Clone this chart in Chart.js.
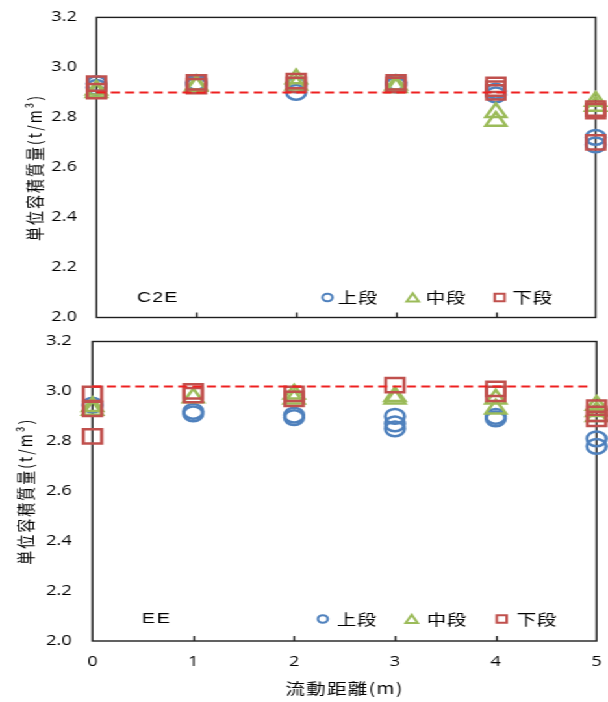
<!DOCTYPE html>
<html>
<head>
<meta charset="utf-8">
<script src="https://cdn.jsdelivr.net/npm/chart.js@4/dist/chart.umd.min.js"></script>
<style>
  html, body { margin: 0; padding: 0; background: #fff; overflow: hidden; }
  /* charts are laid out on a 468px-wide board and widened to 608px */
  #board { position: absolute; left: 0; top: 0; width: 468px; height: 702px;
           transform: scale(1.2991, 1); transform-origin: 0 0; }
  canvas { display: block; }
</style>
</head>
<body>
<div id="board">
  <canvas id="c2e" width="468" height="330" style="width:468px;height:330px"></canvas>
  <canvas id="ee" width="468" height="372" style="width:468px;height:372px"></canvas>
</div>
<script>
// ---- data ----
const distances = [0, 1, 2, 3, 4, 5];          // 流動距離 (m)
const yTicks = [2.0, 2.2, 2.4, 2.6, 2.8, 3.0, 3.2];
const seriesNames = ['上段', '中段', '下段'];

// C2E: 単位容積質量 per distance (several samples each)
const c2eUpper  = [[2.935, 2.92], [2.94, 2.93], [2.93, 2.90], [2.94, 2.93], [2.905, 2.89], [2.72, 2.69]];
const c2eMiddle = [[2.91, 2.90], [2.93, 2.925], [2.955, 2.93], [2.93, 2.92], [2.82, 2.785], [2.865, 2.845]];
const c2eLower  = [[2.935, 2.905], [2.94, 2.925], [2.945, 2.93], [2.94, 2.93], [2.93, 2.915, 2.90], [2.835, 2.825, 2.70]];
const c2eTarget = 2.90;

// EE
const eeUpper  = [[2.945], [2.92, 2.91], [2.905, 2.895], [2.90, 2.87, 2.85], [2.90, 2.89], [2.81, 2.78]];
const eeMiddle = [[2.94, 2.925], [2.975], [2.99, 2.97], [2.98, 2.97], [2.97, 2.93], [2.945, 2.92, 2.90]];
const eeLower  = [[2.99, 2.93, 2.82], [3.00, 2.985], [2.99, 2.97], [3.025], [3.01, 2.99], [2.935, 2.91, 2.89]];
const eeTarget = 3.02;

const targetSpan = [0, 4.94];

// ---- styles ----
const COLORS = ['#4F81BD', '#9BBB59', '#C0504D'];
const STYLES = ['circle', 'triangle', 'rect'];
const RADII  = [7.4, 9, 10];
const TICK_FONT = { family: '"Open Sans", sans-serif', size: 14 };
const CJK = '"Noto Sans CJK JP", sans-serif';

function toPoints(values) {
  const pts = [];
  values.forEach((list, i) => list.forEach(v => pts.push({ x: distances[i], y: v })));
  return pts;
}

function drawLegendMarker(ctx, style, x, y, color) {
  ctx.save();
  ctx.strokeStyle = color;
  ctx.lineWidth = 2;
  ctx.beginPath();
  if (style === 'circle') {
    ctx.arc(x, y, 3.8, 0, Math.PI * 2);
  } else if (style === 'triangle') {
    ctx.moveTo(x, y - 4.2); ctx.lineTo(x + 4.6, y + 4); ctx.lineTo(x - 4.6, y + 4); ctx.closePath();
  } else {
    ctx.rect(x - 3.8, y - 3.8, 7.6, 7.6);
  }
  ctx.stroke();
  ctx.restore();
}

// frame and inward tick marks, under the markers
const framePlugin = {
  id: 'frame',
  beforeDatasetsDraw(chart) {
    const { ctx, chartArea: a, scales: { x } } = chart;
    ctx.save();
    ctx.strokeStyle = '#1e1e1e';
    ctx.lineWidth = 1.4;
    ctx.strokeRect(a.left, a.top, a.right - a.left, a.bottom - a.top);
    ctx.beginPath();
    distances.slice(1, -1).forEach(d => {
      const px = Math.round(x.getPixelForValue(d)) + 0.5;
      ctx.moveTo(px, a.bottom);
      ctx.lineTo(px, a.bottom - 5);
    });
    ctx.stroke();
    ctx.restore();
  }
};

// panel label, in-plot legend and axis titles
const textPlugin = {
  id: 'panelText',
  afterDraw(chart, args, o) {
    const { ctx, chartArea: a } = chart;
    ctx.save();
    ctx.fillStyle = '#000';
    ctx.textBaseline = 'middle';

    // panel name
    ctx.font = '15px "Liberation Sans", Arial, sans-serif';
    ctx.letterSpacing = o.nameSpacing + 'px';
    ctx.textAlign = 'left';
    ctx.fillText(o.name, o.nameX, o.legendY);

    // legend
    ctx.font = '15px ' + CJK;
    ctx.letterSpacing = '0.5px';
    seriesNames.forEach((n, i) => {
      drawLegendMarker(ctx, STYLES[i], o.markerX[i], o.legendY, COLORS[i]);
      ctx.fillText(n, o.textX[i], o.legendY);
    });

    // y title
    ctx.save();
    ctx.font = '14px ' + CJK;
    ctx.letterSpacing = '2px';
    ctx.textAlign = 'center';
    ctx.translate(o.yTitleX, (a.top + a.bottom) / 2);
    ctx.rotate(-Math.PI / 2);
    ctx.fillText('単位容積質量(t/m³)', 0, 0);
    ctx.restore();

    // x title
    if (o.xTitle) {
      ctx.font = '15px ' + CJK;
      ctx.letterSpacing = '1px';
      ctx.textAlign = 'center';
      ctx.fillText(o.xTitle, (a.left + a.right) / 2, o.xTitleY);
    }
    ctx.restore();
  }
};

// fixed axis boxes; the tick labels must not push the plot area inward
function clearPadding(s) {
  s.paddingTop = 0; s.paddingBottom = 0; s.paddingLeft = 0; s.paddingRight = 0;
}

function makePanel(canvasId, upper, middle, lower, target, cfg) {
  const seriesData = [upper, middle, lower];
  const datasets = [{
    type: 'line',
    data: targetSpan.map(x => ({ x, y: target })),
    borderColor: '#EE2020',
    borderWidth: 2,
    borderDash: [7, 4],
    pointRadius: 0,
    showLine: true,
    fill: false,
    order: 0,
    clip: false
  }];
  seriesData.forEach((vals, i) => {
    datasets.push({
      label: seriesNames[i],
      data: toPoints(vals),
      pointStyle: STYLES[i],
      pointRadius: RADII[i],
      pointBorderWidth: 2.5,
      pointBorderColor: COLORS[i],
      pointBackgroundColor: 'rgba(0,0,0,0)',
      showLine: false,
      order: 3 - i,
      clip: false
    });
  });

  return new Chart(document.getElementById(canvasId), {
    type: 'scatter',
    data: { datasets },
    options: {
      responsive: false,
      animation: false,
      events: [],
      layout: { autoPadding: false, padding: { top: cfg.padTop, right: cfg.padRight, left: 0, bottom: 0 } },
      plugins: {
        legend: { display: false },
        tooltip: { enabled: false },
        panelText: cfg.text
      },
      scales: {
        x: {
          type: 'linear', min: 0, max: 5,
          afterBuildTicks: s => { s.ticks = distances.map(v => ({ value: v })); },
          afterFit: s => { s.height = cfg.xHeight; clearPadding(s); },
          grid: { display: false, drawTicks: false },
          border: { display: false },
          ticks: { display: cfg.showXLabels, font: TICK_FONT, color: '#000', padding: 13, maxRotation: 0 }
        },
        y: {
          type: 'linear', min: 2.0, max: 3.2,
          afterBuildTicks: s => { s.ticks = yTicks.map(v => ({ value: v })); },
          afterFit: s => { s.width = cfg.yWidth; clearPadding(s); },
          grid: { display: false, drawTicks: false },
          border: { display: false },
          ticks: { font: TICK_FONT, color: '#000', padding: cfg.yPad, callback: v => v.toFixed(1) }
        }
      }
    },
    plugins: [framePlugin, textPlugin]
  });
}

makePanel('c2e', c2eUpper, c2eMiddle, c2eLower, c2eTarget, {
  padTop: 17.4, padRight: 9.5, xHeight: 12.5, yWidth: 74.3, yPad: 15, showXLabels: false,
  text: {
    name: 'C2E', nameX: 105.4, nameSpacing: 1, legendY: 297.5,
    markerX: [252.1, 317.7, 384.6], textX: [260, 327.7, 394.6],
    yTitleX: 27
  }
});

makePanel('ee', eeUpper, eeMiddle, eeLower, eeTarget, {
  padTop: 11.5, padRight: 8.8, xHeight: 61, yWidth: 71.2, yPad: 16, showXLabels: true,
  text: {
    name: 'EE', nameX: 109.2, nameSpacing: 1.5, legendY: 289,
    markerX: [248.5, 316.9, 386.2], textX: [259.2, 328.5, 397.7],
    yTitleX: 19.2, xTitle: '流動距離(m)', xTitleY: 358
  }
});
</script>
</body>
</html>
